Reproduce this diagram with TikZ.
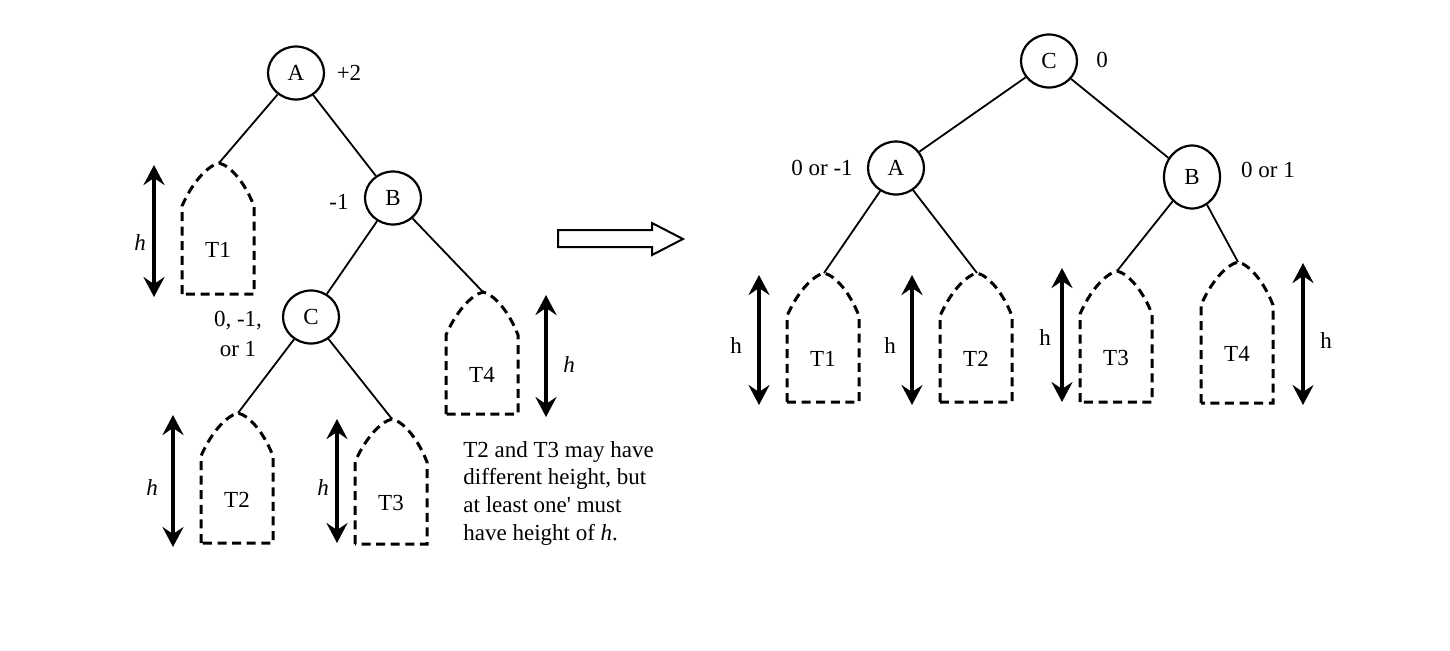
\documentclass[tikz,border=0pt]{standalone}
\usepackage{fontspec}
\setmainfont{Liberation Serif}
\usetikzlibrary{shapes.geometric, arrows.meta}

\tikzstyle{treenode} = [ellipse, draw=black, line width=1.1pt, minimum width=28pt, minimum height=26.5pt, inner sep=0pt]
\tikzstyle{edge} = [line width=0.9pt]
\tikzstyle{subtree} = [line width=1.5pt, dash pattern=on 4.5pt off 2.8pt]
\tikzstyle{harrow} = [line width=1.8pt, {Stealth[length=10pt,width=10.5pt,inset=3.5pt]}-{Stealth[length=10pt,width=10.5pt,inset=3.5pt]}]
\tikzstyle{bigarrow} = [line width=1pt, fill=white, line join=miter]

% name, left x, peak y, bottom y, label
\newcommand{\subtree}[5]{%
  \draw [subtree] (#2,#4) -- (#2,#3+43) .. controls (#2+10,#3+20) and (#2+25,#3+3) .. (#2+37,#3) .. controls (#2+49,#3+3) and (#2+63,#3+20) .. (#2+72,#3+43) -- (#2+72,#4) -- cycle;
  \coordinate (#1-top) at (#2+37,#3);
  \node (#1) at ({#2+36},{(#3+43+#4)/2}) {#5};
}

\begin{document}
\begin{tikzpicture}[x=0.5pt, y=-0.5pt, font=\fontsize{11.5pt}{13.8pt}\selectfont]
\useasboundingbox (0,0) rectangle (1450,650);

% before rotation
\node (la) [treenode] at (296,73) {A};
\node (lb) [treenode] at (393,198) {B};
\node (lc) [treenode] at (311,317) {C};
\node at (349,73) {+2};
\node at (339,202) {-1};
\node [align=center] at (238,334) {0, -1,\\[1pt]or 1};

\subtree{lt1}{182}{163}{294}{T1}
\subtree{lt2}{201}{413}{543}{T2}
\subtree{lt3}{355}{419}{544}{T3}
\subtree{lt4}{446}{292}{414}{T4}

\draw [edge] (la) -- (lb);
\draw [edge] (la) -- (lt1-top);
\draw [edge] (lb) -- (lc);
\draw [edge] (lb) -- (lt4-top);
\draw [edge] (lc) -- (lt2-top);
\draw [edge] (lc) -- (lt3-top);

\draw [harrow] (154,165) -- (154,297);
\node at (140,243) {\textit{h}};
\draw [harrow] (173,415) -- (173,547);
\node at (152,488) {\textit{h}};
\draw [harrow] (337,419) -- (337,543);
\node at (323,488) {\textit{h}};
\draw [harrow] (546,295) -- (546,417);
\node at (569,365) {\textit{h}};

\node [anchor=north west, align=left, inner sep=0pt] at (463,441) {T2 and T3 may have\\different height, but\\at least one\textquotesingle{} must\\have height of \textit{h}.};

% rotation
\draw [bigarrow] (558,230) -- (652,230) -- (652,223) -- (683,239) -- (652,255) -- (652,247) -- (558,247) -- cycle;

% after rotation
\node (rc) [treenode] at (1049,61) {C};
\node (ra) [treenode] at (896,168) {A};
\node (rb) [treenode, minimum height=31.5pt] at (1192,177) {B};
\node at (1102,60) {0};
\node at (822,168) {0 or -1};
\node at (1268,170) {0 or 1};

\subtree{rt1}{787}{273}{402}{T1}
\subtree{rt2}{940}{273}{402}{T2}
\subtree{rt3}{1080}{271}{402}{T3}
\subtree{rt4}{1201}{262}{403}{T4}

\draw [edge] (rc) -- (ra);
\draw [edge] (rc) -- (rb);
\draw [edge] (ra) -- (rt1-top);
\draw [edge] (ra) -- (rt2-top);
\draw [edge] (rb) -- (rt3-top);
\draw [edge] (rb) -- (rt4-top);

\draw [harrow] (759,275) -- (759,405);
\node at (736,346) {h};
\draw [harrow] (912,275) -- (912,405);
\node at (890,346) {h};
\draw [harrow] (1062,268) -- (1062,402);
\node at (1045,338) {h};
\draw [harrow] (1303,263) -- (1303,405);
\node at (1326,341) {h};

\end{tikzpicture}
\end{document}
